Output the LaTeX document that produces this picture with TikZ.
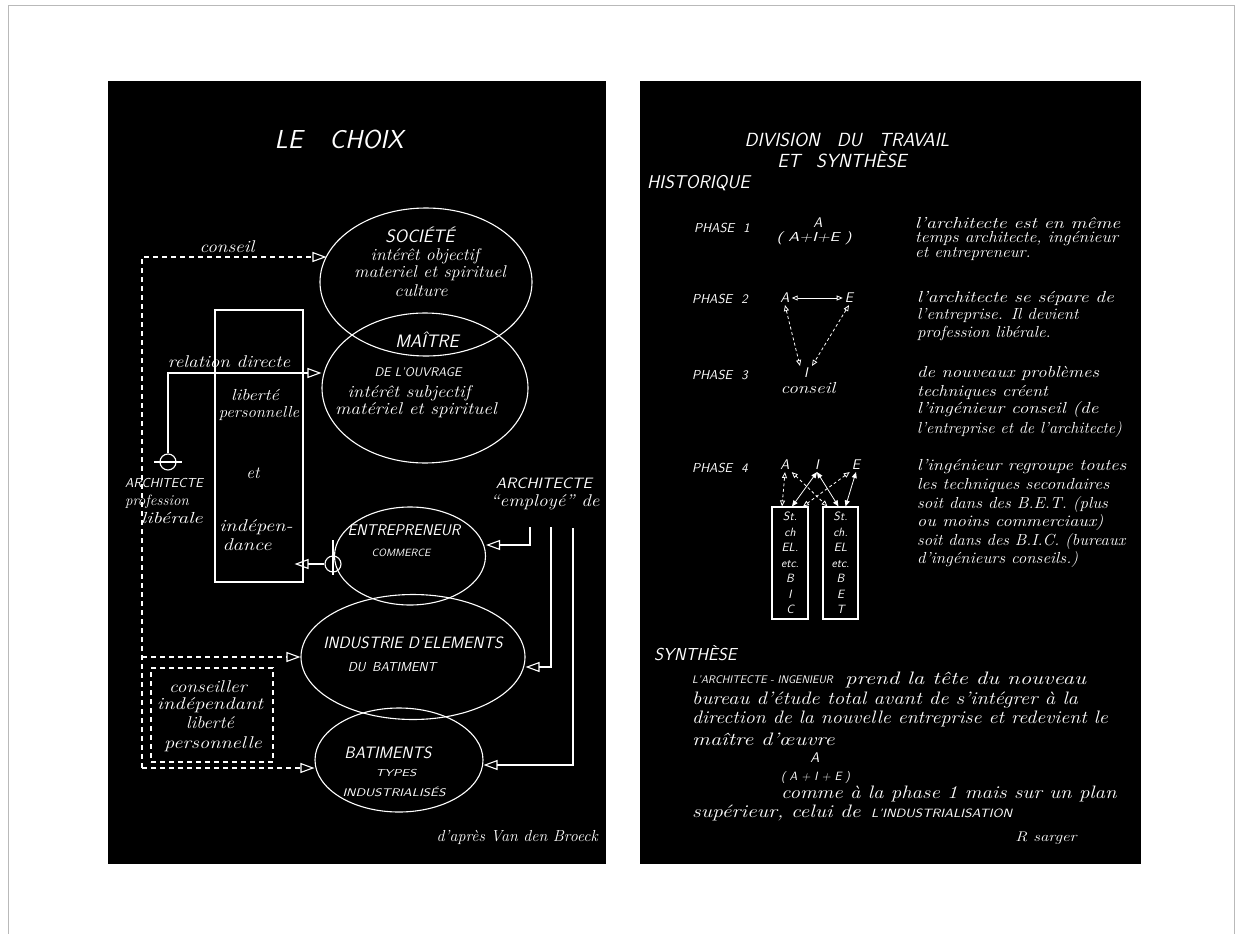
\documentclass[tikz,border=0pt]{standalone}
\usepackage{fontspec}
\usepackage{graphicx}
\usetikzlibrary{shapes.geometric,arrows.meta,calc}
\newcommand{\mycaps}[1]{\fontsize{#1}{#1}\selectfont\sffamily\itshape}
\newcommand{\myhand}[1]{\fontsize{#1}{#1}\selectfont\rmfamily\itshape}
\newcommand{\hs}[2][1]{\scalebox{#1}[1]{#2}}
\begin{document}
\begin{tikzpicture}[x=1pt,y=-1pt,
  ln/.style={draw=white, line width=1.1pt},
  thin/.style={draw=white, line width=0.8pt},
  dsh/.style={dash pattern=on 5pt off 4pt},
  dshs/.style={dash pattern=on 3pt off 2.5pt},
  tri/.style={-{Triangle[open,length=14pt,width=10pt]}},
  stri/.style={{Triangle[open,length=6pt,width=5pt]}-{Triangle[open,length=6pt,width=5pt]}},
  ftri/.style={{Triangle[length=6pt,width=5pt]}-{Triangle[length=6pt,width=5pt]}},
  blob/.style={ellipse, draw=white, line width=1.1pt, inner sep=0pt},
  wt/.style={text=white, inner sep=0pt},
  lt/.style={text=white, inner sep=2pt},
  hL/.style={wt, font=\myhand{17}},
  hR/.style={wt, anchor=west, font=\myhand{16}},
  hS/.style={wt, anchor=west, font=\myhand{18}},
  boxtxt/.style={draw=white, line width=1.1pt, inner sep=0pt, minimum height=112pt,
      text=white, align=center, font=\fontsize{12}{15.5}\selectfont\sffamily\itshape},
]
\useasboundingbox (0,0) rectangle (1242,934);
\fill[white] (0,0) rectangle (1242,934);
\draw[gray!55, line width=0.6pt] (8,934) -- (8,5) -- (1234,5) -- (1234,934);
\fill[black] (108,81) rectangle (606,864);
\fill[black] (640,81) rectangle (1141,864);

% ---------------- LEFT PANEL ----------------
\node[wt, font=\mycaps{26}] (choix) at (339,139) {LE\hspace{27pt}CHOIX};

\node[blob, minimum width=212pt, minimum height=148pt] (soc) at (426,282) {};
\node[blob, minimum width=206pt, minimum height=150pt] (mai) at (425,388) {};
\node[blob, minimum width=151pt, minimum height=98pt] (ent) at (410,556) {};
\node[blob, minimum width=224pt, minimum height=125pt] (ind) at (413,657) {};
\node[blob, minimum width=168pt, minimum height=104pt] (bat) at (399,760) {};

\node[wt, font=\mycaps{18}] (socT) at (420,235) {SOCIÉTÉ};
\node[hL] (soc1) at (425,256) {\hs[1.04]{intérêt objectif}};
\node[hL] (soc2) at (430,273) {\hs[1.06]{materiel et spirituel}};
\node[hL] (soc3) at (421,291) {\hs[1.08]{culture}};

\node[wt, font=\mycaps{18}] (maiT) at (427,340) {MAÎTRE};
\node[wt, font=\mycaps{12.5}] (mai1) at (418,372) {DE L'OUVRAGE};
\node[hL] (mai2) at (409,393) {\hs[1.1]{intérêt subjectif}};
\node[hL] (mai3) at (416,410) {\hs[1.13]{matériel et spirituel}};

\node[draw=white, line width=1.1pt, minimum width=88pt, minimum height=272pt, inner sep=0pt] (lib) at (259,446) {};
\node[wt, font=\myhand{16}] (lib1) at (255,395) {\hs[1.15]{liberté}};
\node[wt, font=\myhand{16}] (lib2) at (259,413) {\hs[1.05]{personnelle}};
\node[hL] (lib3) at (253,473) {et};
\node[hL] (lib4) at (256,527) {\hs[1.2]{indépen-}};
\node[hL] (lib5) at (247,545) {\hs[1.2]{dance}};

\node[hL] (reldir) at (229,362) {\hs[1.13]{relation directe}};
\node[circle, draw=white, line width=1.1pt, minimum size=16pt, inner sep=0pt] (th1) at (168,462) {};
\draw[ln] ([xshift=-14pt]th1.center) -- ([xshift=14pt]th1.center);
\draw[ln, tri] (th1.north) |- ([yshift=15pt]mai.west);

\node[wt, font=\mycaps{13}] (archL) at (164,483) {ARCHITECTE};
\node[wt, font=\myhand{15}] (archL2) at (157,502) {profession};
\node[wt, font=\myhand{16}] (archL3) at (172,518) {\hs[1.3]{libérale}};

\coordinate (dtop) at (142,257);
\coordinate (dbot) at (142,768);
\node[hL] (cons) at (227,247) {\hs[1.13]{conseil}};
\draw[ln, dsh, tri] (dbot) -- (dtop) -- ([xshift=7pt]dtop -| soc.west);
\draw[ln, dsh, tri] (dtop |- ind.west) -- (ind.west);
\draw[ln, dsh, tri] (dbot) -- (dbot -| bat.west);

\node[draw=white, dsh, line width=1.1pt, minimum width=122pt, minimum height=94pt, inner sep=0pt] (cib) at (212,715) {};
\node[hL] (cib1) at (208,687) {\hs[1.13]{conseiller}};
\node[hL] (cib2) at (210,705) {\hs[1.22]{indépendant}};
\node[hL] (cib3) at (210,723) {\hs[1.08]{liberté}};
\node[hL] (cib4) at (213,744) {\hs[1.2]{personnelle}};

\node[wt, font=\mycaps{15.5}] (entT) at (404,530) {ENTREPRENEUR};
\node[wt, font=\mycaps{10.5}] (ent1) at (401,553) {COMMERCE};
\node[circle, draw=white, line width=1.1pt, minimum size=16pt, inner sep=0pt] (th2) at (333,564) {};
\draw[ln] ([yshift=24pt]th2.center) -- ([yshift=-11pt]th2.center);
\draw[ln, tri] (th2.west) -- ([xshift=-9pt]th2.west -| lib.east);

\node[wt, font=\mycaps{16.4}] (indT) at (413,643) {INDUSTRIE D'ELEMENTS};
\node[wt, font=\mycaps{13}] (ind1) at (392,667) {DU\enspace BATIMENT};

\node[wt, font=\mycaps{16.5}] (batT) at (388,753) {BATIMENTS};
\node[wt, font=\mycaps{10}] (bat1) at (396,773) {\hs[1.3]{TYPES}};
\node[wt, font=\mycaps{11}] (bat2) at (394,792) {\hs[1.24]{INDUSTRIALISÉS}};

\node[wt, font=\mycaps{15}] (archR) at (544,483) {\hs[1.07]{ARCHITECTE}};
\node[hL] (archR2) at (545,502) {\hs[1.13]{``employé'' de}};
\coordinate (e1) at (530,527);
\coordinate (e2) at (551,527);
\coordinate (e3) at (573,528);
\draw[ln, tri] (e1) |- ([yshift=11pt]ent.east);
\draw[ln, tri] (e2) |- ([yshift=-10pt]ind.east);
\draw[ln, tri] (e3) |- ([yshift=-5pt]bat.east);

\node[wt, font=\myhand{16}, anchor=east] (apres) at (598,837) {d'après Van den Broeck};

% ---------------- RIGHT PANEL ----------------
\node[wt, font=\mycaps{19}] (div1) at (847,140) {DIVISION\hspace{17pt}DU\hspace{17pt}TRAVAIL};
\node[wt, font=\mycaps{19}] (div2) at (842,159) {ET\hspace{16pt}SYNTHÈSE};
\node[wt, font=\mycaps{18.5}, anchor=west] (hist) at (647,183) {HISTORIQUE};

\node[wt, font=\mycaps{13}, anchor=west] (ph1) at (694,228) {PHASE\hspace{9pt}1};
\node[wt, font=\mycaps{13}, anchor=west] (ph2) at (692,299) {PHASE\hspace{9pt}2};
\node[wt, font=\mycaps{13}, anchor=west] (ph3) at (692,375) {PHASE\hspace{9pt}3};
\node[wt, font=\mycaps{13}, anchor=west] (ph4) at (692,468) {PHASE\hspace{9pt}4};

\node[wt, font=\mycaps{14}] (a1) at (818,223) {A};
\node[wt, font=\mycaps{13}] (a1b) at (814,238) {\hs[1.3]{( A+I+E )}};
\node[hR] (t11) at (915,223) {\hs[1.24]{l'architecte est en même}};
\node[hR] (t12) at (915,239) {\hs[1.1]{temps architecte, ingénieur}};
\node[hR] (t13) at (915,254) {\hs[1.06]{et entrepreneur.}};

\node[lt, font=\mycaps{14}] (a2) at (785,298) {A};
\node[lt, font=\mycaps{14}] (e2n) at (849,298) {E};
\draw[thin, stri] (a2.east) -- (e2n.west);
\node[lt, font=\mycaps{14}] (i3) at (806,373) {I};
\node[wt, font=\myhand{16}] (i3c) at (808,388) {\hs[1.2]{conseil}};
\draw[thin, dshs, stri] (a2.south) -- ([xshift=-6pt]i3.north);
\draw[thin, dshs, stri] (e2n.south) -- ([xshift=6pt]i3.north);
\node[hR] (t21) at (917,298) {\hs[1.22]{l'architecte se sépare de}};
\node[hR] (t22) at (917,315) {\hs[1.06]{l'entreprise. Il devient}};
\node[hR] (t23) at (917,333) {\hs[1.06]{profession libérale.}};

\node[hR] (t31) at (917,373) {\hs[1.17]{de nouveaux problèmes}};
\node[hR] (t32) at (917,392) {\hs[1.13]{techniques créent}};
\node[hR] (t33) at (917,410) {\hs[1.2]{l'ingénieur conseil (de}};
\node[hR] (t34) at (917,430) {\hs[1.02]{l'entreprise et de l'architecte)}};

\node[lt, font=\mycaps{14}] (a4) at (785,465) {A};
\node[lt, font=\mycaps{14}] (i4) at (817,465) {I};
\node[lt, font=\mycaps{14}] (e4) at (856,465) {E};
\node[boxtxt, minimum width=36pt] (bx1) at (790,563) {St.\\ch\\EL.\\etc.\\B\\I\\C};
\node[boxtxt, minimum width=35pt] (bx2) at (840.5,563) {St.\\ch.\\EL\\etc.\\B\\E\\T};
\draw[thin, dshs, stri] (a4.south) -- ([xshift=-8pt]bx1.north);
\draw[thin, dshs, stri] (a4.south east) -- ([xshift=-13pt]bx2.north);
\draw[thin, ftri] (i4.south) -- ([xshift=2pt]bx1.north);
\draw[thin, ftri] (i4.south) -- ([xshift=-2pt]bx2.north);
\draw[thin, dshs, stri] (e4.south west) -- ([xshift=13pt]bx1.north);
\draw[thin, ftri] (e4.south) -- ([xshift=5pt]bx2.north);
\node[hR] (t41) at (917,467) {\hs[1.16]{l'ingénieur regroupe toutes}};
\node[hR] (t42) at (917,485) {\hs[1.1]{les techniques secondaires}};
\node[hR] (t43) at (917,505) {\hs[1.06]{soit dans des B.E.T. (plus}};
\node[hR] (t44) at (917,523) {\hs[1.14]{ou moins commerciaux)}};
\node[hR] (t45) at (917,542) {\hs[1.04]{soit dans des B.I.C. (bureaux}};
\node[hR] (t46) at (917,560) {\hs[1.06]{d'ingénieurs conseils.)}};

\node[wt, font=\mycaps{17.3}, anchor=west] (syn) at (654,653) {SYNTHÈSE};
\node[wt, font=\mycaps{11}, anchor=west] (s1a) at (692,680) {L'ARCHITECTE - INGENIEUR};
\node[hS] (s1b) at (845,680) {\hs[1.27]{prend la tête du nouveau}};
\node[hS] (s2) at (692,700) {\hs[1.15]{bureau d'étude total avant de s'intégrer à la}};
\node[hS] (s3) at (692,719) {\hs[1.11]{direction de la nouvelle entreprise et redevient le}};
\node[hS] (s4) at (692,739) {\hs[1.24]{maître d'œuvre}};
\node[wt, font=\mycaps{14}] (sA) at (815,758) {A};
\node[wt, font=\mycaps{12}, anchor=west] (sAIE) at (781,777) {( A + I + E )};
\node[hS] (s5) at (781,794) {\hs[1.16]{comme à la phase 1 mais sur un plan}};
\node[hS] (s6a) at (692,813) {\hs[1.2]{supérieur, celui de}};
\node[wt, font=\mycaps{12}, anchor=west] (s6b) at (871,813) {\hs[1.16]{L'INDUSTRIALISATION}};
\node[wt, font=\myhand{14}] (sig) at (1046,838) {\hs[1.2]{R sarger}};
\end{tikzpicture}
\end{document}
